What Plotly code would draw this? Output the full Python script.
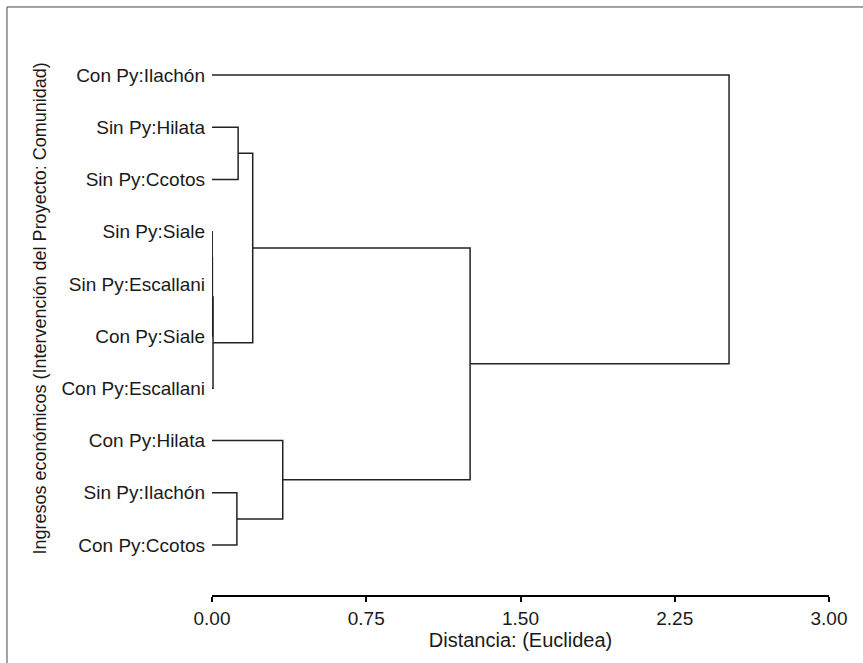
import plotly.graph_objects as go

# Leaves of the dendrogram, top to bottom
leaf_labels = [
    "Con Py:Ilachón",
    "Sin Py:Hilata",
    "Sin Py:Ccotos",
    "Sin Py:Siale",
    "Sin Py:Escallani",
    "Con Py:Siale",
    "Con Py:Escallani",
    "Con Py:Hilata",
    "Sin Py:Ilachón",
    "Con Py:Ccotos",
]

# Agglomeration steps (scipy-style: clusters n, n+1, ... are created in order)
merge_left = [3, 10, 11, 1, 13, 8, 7, 14, 0]
merge_right = [4, 5, 6, 2, 12, 9, 15, 16, 17]
merge_dist = [0.001, 0.002, 0.005, 0.127, 0.198, 0.121, 0.344, 1.255, 2.514]

x_ticks = [0.0, 0.75, 1.50, 2.25, 3.00]

FONT = "Liberation Sans, Arial, sans-serif"
TEXT = "#1a1a1a"

# Build the elbow segments of the tree
n = len(leaf_labels)
pos = {i: float(i) for i in range(n)}
height = {i: 0.0 for i in range(n)}
xs, ys = [], []
for k, (a, b, d) in enumerate(zip(merge_left, merge_right, merge_dist)):
    node = n + k
    xs += [height[a], d, d, height[b], None]
    ys += [pos[a], pos[a], pos[b], pos[b], None]
    pos[node] = (pos[a] + pos[b]) / 2
    height[node] = d

fig = go.Figure()
fig.add_trace(go.Scatter(
    x=xs, y=ys, mode="lines",
    line=dict(color="#222222", width=1.5),
    hoverinfo="skip", showlegend=False,
))

fig.update_layout(
    width=863, height=663,
    margin=dict(l=212, r=34, t=40, b=68),
    paper_bgcolor="white", plot_bgcolor="white",
    font=dict(family=FONT, size=17, color=TEXT),
    xaxis=dict(
        range=[0, 3],
        tickvals=x_ticks,
        ticktext=[f"{v:.2f}" for v in x_ticks],
        tickfont=dict(size=19),
        showline=True, linecolor="black", linewidth=2,
        ticks="outside", ticklen=5, tickwidth=2, tickcolor="black",
        showgrid=False, zeroline=False,
        title=dict(text="Distancia: (Euclidea)", standoff=5,
                   font=dict(family=FONT, size=20, color=TEXT)),
    ),
    yaxis=dict(
        range=[9.957, -0.670],
        tickvals=list(range(n)),
        ticktext=leaf_labels,
        tickfont=dict(size=19),
        ticks="", showline=False, showgrid=False, zeroline=False,
        ticklabelstandoff=6,
    ),
    annotations=[dict(
        text="Ingresos económicos (Intervención del Proyecto: Comunidad)",
        xref="paper", yref="paper", x=-0.278, y=0.517,
        textangle=-90, showarrow=False,
        xanchor="center", yanchor="middle",
        font=dict(family=FONT, size=18, color=TEXT),
    )],
    shapes=[
        dict(type="line", xref="paper", yref="paper",
             x0=-0.3323, x1=1.06, y0=1.0595, y1=1.0595,
             line=dict(color="#444444", width=1)),
        dict(type="line", xref="paper", yref="paper",
             x0=-0.3323, x1=-0.3323, y0=1.0595, y1=-0.13,
             line=dict(color="#444444", width=1)),
    ],
)

fig.write_html("out.html")
